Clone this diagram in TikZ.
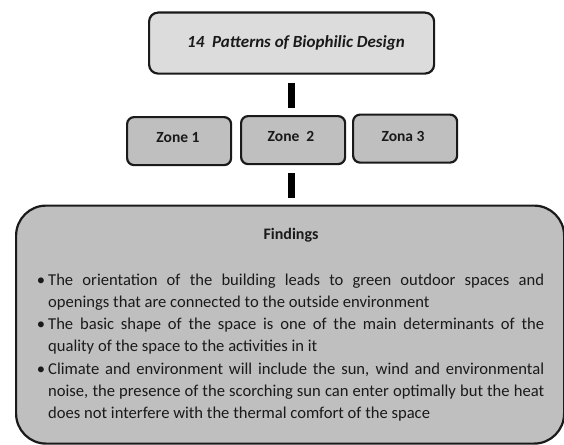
\documentclass[tikz,border=0pt]{standalone}
\usepackage{fontspec}
\setmainfont{Carlito}
\definecolor{inkc}{HTML}{1A1A1A}
\definecolor{topfill}{HTML}{DCDCDC}
\definecolor{zonefill}{HTML}{BFBFBF}
\tikzset{
  box/.style={draw=inkc,line width=2.2pt,inner sep=0pt,anchor=north west},
  topbox/.style={box,fill=topfill,rounded corners=9pt,minimum width=285pt,minimum height=61pt},
  zonebox/.style={box,fill=zonefill,rounded corners=7pt,minimum width=104pt,minimum height=48pt},
  findbox/.style={box,fill=zonefill,rounded corners=30pt,minimum width=548pt,minimum height=238pt},
  link/.style={draw=black,line width=7pt,shorten <=8pt,shorten >=7pt},
  para/.style={text=inkc,text width=496pt,align=justify,anchor=north west,inner sep=0pt,font=\fontsize{16.6}{22.2}\selectfont},
  zonetext/.style={text=inkc,font=\fontsize{15.5}{18}\selectfont\bfseries},
}
\begin{document}
\begin{tikzpicture}[x=1pt,y=-1pt]
\useasboundingbox (0,0) rectangle (564,444);
\fill[white] (0,0) rectangle (564,444);
\node[topbox] (top) at (148,11.5) {};
\node[zonebox] (z1) at (126,116) {};
\node[zonebox] (z2) at (240,115) {};
\node[zonebox] (z3) at (352,113.5) {};
\begin{scope}
\clip (0,0) rectangle (564,444);
\node[findbox] (find) at (15,204.5) {};
\end{scope}
\node[text=inkc,font=\fontsize{17}{20}\selectfont\bfseries\itshape] (toplabel) at (296,43) {14\ \ Patterns of Biophilic Design};
\node[zonetext] (l1) at (178,138) {Zone 1};
\node[zonetext] (l2) at (291,136) {Zone\ \ 2};
\node[zonetext] (l3) at (403,136) {Zona 3};
\node[text=inkc,font=\fontsize{16}{18}\selectfont\bfseries] (ftitle) at (291,235) {Findings};
\node[para] (p1) at (48,273.5) {\makebox[0pt][r]{\textbullet\hspace{3pt}}The orientation of the building leads to green outdoor spaces and\linebreak openings that are connected to the outside environment};
\node[para] (p2) at (48,318) {\makebox[0pt][r]{\textbullet\hspace{3pt}}The basic shape of the space is one of the main determinants of the\linebreak quality of the space to the activities in it};
\node[para] (p3) at (48,362.5) {\makebox[0pt][r]{\textbullet\hspace{3pt}}Climate and environment will include the sun, wind and environmental\linebreak noise, the presence of the scorching sun can enter optimally but the heat\linebreak does not interfere with the thermal comfort of the space};
\draw[link] (top.south) -- (top.south |- z2.north);
\draw[link] (top.south |- z2.south) -- (top.south |- find.north);
\end{tikzpicture}
\end{document}
